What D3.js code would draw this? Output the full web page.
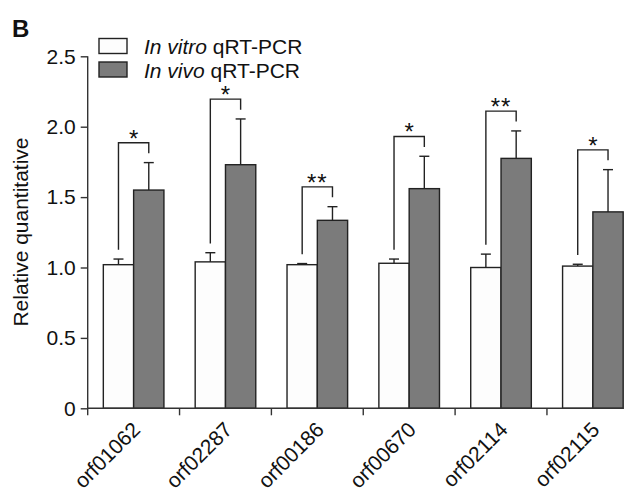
<!DOCTYPE html>
<html>
<head>
<meta charset="utf-8">
<script src="https://cdn.jsdelivr.net/npm/d3@7"></script>
<style>
  body { margin: 0; background: #fff; }
  text { font-family: "Liberation Sans", Arial, sans-serif; fill: #111; }
</style>
</head>
<body>
<div id="chart"></div>
<script>
var categories = ['orf01062', 'orf02287', 'orf00186', 'orf00670', 'orf02114', 'orf02115'];
var inVitro = [1.02, 1.04, 1.02, 1.03, 1.00, 1.01];
var inVitroErr = [0.04, 0.065, 0.008, 0.03, 0.095, 0.013];
var inVivo = [1.55, 1.73, 1.335, 1.56, 1.775, 1.395];
var inVivoErr = [0.195, 0.325, 0.097, 0.23, 0.195, 0.30];
var signif = ['*', '*', '**', '*', '**', '*'];
var yTicks = [0, 0.5, 1.0, 1.5, 2.0, 2.5];

var width = 632, height = 492;
var x0 = 87.7, groupW = 91.85, barW = 30.3;

var svg = d3.select('#chart').append('svg')
    .attr('width', width)
    .attr('height', height);

var xScale = d3.scaleBand()
    .domain(categories)
    .range([x0, x0 + groupW * categories.length])
    .padding(0);

var yScale = d3.scaleLinear()
    .domain([0, 2.5])
    .range([408.3, 56.3]);

var axisColor = '#333';

// bars
var groups = svg.selectAll('.grp')
    .data(categories)
    .enter().append('g')
    .attr('class', 'grp');

function center(d) { return xScale(d) + xScale.bandwidth() / 2; }

groups.append('rect')
    .attr('x', function(d) { return center(d) - barW; })
    .attr('y', function(d, i) { return yScale(inVitro[i]); })
    .attr('width', barW)
    .attr('height', function(d, i) { return yScale(0) - yScale(inVitro[i]); })
    .style('fill', '#fdfdfd')
    .style('stroke', '#222')
    .style('stroke-width', 1.4);

groups.append('rect')
    .attr('x', function(d) { return center(d); })
    .attr('y', function(d, i) { return yScale(inVivo[i]); })
    .attr('width', barW)
    .attr('height', function(d, i) { return yScale(0) - yScale(inVivo[i]); })
    .style('fill', '#7b7b7b')
    .style('stroke', '#222')
    .style('stroke-width', 1.4);

// error bars (upper only)
function errBar(vals, errs, off) {
    groups.append('line')
        .attr('x1', function(d) { return center(d) + off; })
        .attr('x2', function(d) { return center(d) + off; })
        .attr('y1', function(d, i) { return yScale(vals[i]); })
        .attr('y2', function(d, i) { return yScale(vals[i] + errs[i]); })
        .style('stroke', '#222').style('stroke-width', 1.4);
    groups.append('line')
        .attr('x1', function(d) { return center(d) + off - 5; })
        .attr('x2', function(d) { return center(d) + off + 5; })
        .attr('y1', function(d, i) { return yScale(vals[i] + errs[i]); })
        .attr('y2', function(d, i) { return yScale(vals[i] + errs[i]); })
        .style('stroke', '#222').style('stroke-width', 1.4);
}
errBar(inVitro, inVitroErr, -barW / 2);
errBar(inVivo, inVivoErr, barW / 2);

// significance brackets
groups.each(function(d, i) {
    var g = d3.select(this);
    var lx = center(d) - barW / 2, rx = center(d) + barW / 2;
    var ly = yScale(inVitro[i] + inVitroErr[i]) - 9.3;
    var ry = yScale(inVivo[i] + inVivoErr[i]) - 9.3;
    var hy = Math.min(ly, ry) - 10.5;
    g.append('path')
        .attr('d', 'M' + lx + ',' + ly + 'V' + hy + 'H' + rx + 'V' + ry)
        .style('fill', 'none')
        .style('stroke', '#222')
        .style('stroke-width', 1.4);
    g.append('text')
        .attr('x', (lx + rx) / 2)
        .attr('y', hy + 4)
        .attr('text-anchor', 'middle')
        .style('font-size', '24px')
        .style('letter-spacing', signif[i].length > 1 ? '1px' : '0px')
        .text(signif[i]);
});

// y axis
var yAxis = svg.append('g')
    .attr('transform', 'translate(' + x0 + ',0)')
    .call(d3.axisLeft(yScale).tickValues(yTicks).tickSize(7).tickPadding(5)
        .tickFormat(function(v) { return v === 0 ? '0' : d3.format('.1f')(v); }));
yAxis.select('.domain').remove();
yAxis.append('line')
    .attr('y1', yScale(0)).attr('y2', yScale(2.5))
    .style('stroke', axisColor).style('stroke-width', 1.4);
yAxis.selectAll('.tick line').style('stroke', axisColor).style('stroke-width', 1.4);
yAxis.selectAll('.tick text')
    .style('font-size', '21px')
    .style('font-family', '"Liberation Sans", Arial, sans-serif')
    .style('fill', '#111');

// x axis
var xAxisG = svg.append('g');
xAxisG.append('line')
    .attr('x1', x0).attr('x2', center(categories[categories.length - 1]) + barW)
    .attr('y1', yScale(0)).attr('y2', yScale(0))
    .style('stroke', axisColor).style('stroke-width', 1.4);
xAxisG.selectAll('.xt')
    .data(categories)
    .enter().append('line')
    .attr('x1', function(d) { return xScale(d); })
    .attr('x2', function(d) { return xScale(d); })
    .attr('y1', yScale(0)).attr('y2', yScale(0) + 7)
    .style('stroke', axisColor).style('stroke-width', 1.4);
xAxisG.selectAll('.xl')
    .data(categories)
    .enter().append('text')
    .attr('text-anchor', 'end')
    .attr('transform', function(d) {
        return 'translate(' + (center(d) + 8) + ',' + 431 + ') rotate(-45)';
    })
    .style('font-size', '21px')
    .text(function(d) { return d; });

// y label
svg.append('text')
    .attr('transform', 'translate(28,232) rotate(-90)')
    .attr('text-anchor', 'middle')
    .style('font-size', '21px')
    .text('Relative quantitative');

// panel letter
svg.append('text')
    .attr('x', 12).attr('y', 37)
    .style('font-size', '24px')
    .style('font-weight', 'bold')
    .text('B');

// legend
var legendItems = [
    { italic: 'In vitro', rest: ' qRT-PCR', fill: '#fdfdfd' },
    { italic: 'In vivo', rest: ' qRT-PCR', fill: '#7b7b7b' }
];
var legend = svg.selectAll('.leg')
    .data(legendItems)
    .enter().append('g')
    .attr('transform', function(d, i) { return 'translate(99,' + (38.5 + i * 23.5) + ')'; });
legend.append('rect')
    .attr('width', 28).attr('height', 15)
    .style('fill', function(d) { return d.fill; })
    .style('stroke', '#222').style('stroke-width', 1.4);
var lt = legend.append('text')
    .attr('x', 45).attr('y', 15.5)
    .style('font-size', '21px');
lt.append('tspan').style('font-style', 'italic').text(function(d) { return d.italic; });
lt.append('tspan').text(function(d) { return d.rest; });
</script>
</body>
</html>
